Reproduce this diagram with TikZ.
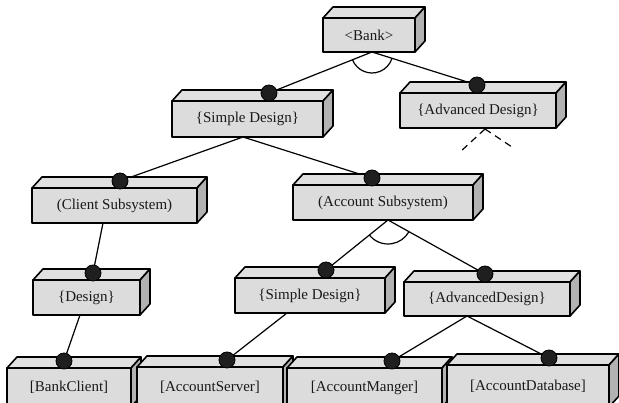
\documentclass[tikz,border=0pt]{standalone}
\usepackage{fontspec}
\setmainfont{Liberation Serif}
\usetikzlibrary{calc}
\definecolor{frontc}{HTML}{DCDCDC}
\definecolor{topc}{HTML}{E0E0E0}
\definecolor{sidec}{HTML}{B2B2B2}
\tikzset{
  boxface/.style={draw=black, line width=1.6pt, line join=round},
  frontbox/.style={boxface, fill=frontc, rectangle, inner sep=0pt, text=black!90,
    font=\fontsize{15}{17}\selectfont},
  link/.style={draw=black, line width=1.2pt},
  knobdot/.style={circle, fill=black!88, draw=black, line width=0.8pt, minimum size=16pt, inner sep=0pt},
  dlink/.style={link, dash pattern=on 7pt off 5pt}
}
\newcommand{\cuboidbox}[6]{%
  \draw[boxface, fill=topc] (#2,#3) -- (#2+10,#3-11) -- (#4+10,#3-11) -- (#4,#3) -- cycle;
  \draw[boxface, fill=sidec] (#4,#3) -- (#4+10,#3-11) -- (#4+10,#5-11) -- (#4,#5) -- cycle;
  \pgfmathsetmacro\cbw{#4-#2}%
  \pgfmathsetmacro\cbh{#5-#3}%
  \node[frontbox, minimum width=\cbw pt, minimum height=\cbh pt] (#1) at ({(#2+#4)/2},{(#3+#5)/2}) {#6};
}
\begin{document}
\begin{tikzpicture}[x=1pt, y=-1pt]
\useasboundingbox (0,0) rectangle (619,403);
\fill[white] (0,0) rectangle (619,403);

% knob / connector positions
\coordinate (bankB) at (372,52);
\coordinate (simpleOneB) at (243,137);
\coordinate (clientB) at (103,223);
\coordinate (designB) at (80,315);
\coordinate (accountB) at (388,220);
\coordinate (simpleTwoB) at (287,313);
\coordinate (advTwoB) at (467,316);
\coordinate (advOneB) at (485,129);
\coordinate (dashL) at (460,152);
\coordinate (dashR) at (512,147);

\coordinate (kSimpleOne) at (269,93);
\coordinate (kAdvOne) at (477,85);
\coordinate (kClient) at (120,181);
\coordinate (kAccount) at (372,178);
\coordinate (kDesign) at (93,273);
\coordinate (kSimpleTwo) at (326,270);
\coordinate (kAdvTwo) at (485,274);
\coordinate (kBankClient) at (64,361);
\coordinate (kAccServer) at (227,360);
\coordinate (kAccManger) at (392,361);
\coordinate (kAccDb) at (549,358);

% connectors
\draw[link] (bankB) -- (kSimpleOne);
\draw[link] (bankB) -- (kAdvOne);
\draw[link] (simpleOneB) -- (kClient);
\draw[link] (simpleOneB) -- (kAccount);
\draw[link] (clientB) -- (kDesign);
\draw[link] (designB) -- (kBankClient);
\draw[link] (accountB) -- (kSimpleTwo);
\draw[link] (accountB) -- (kAdvTwo);
\draw[link] (simpleTwoB) -- (kAccServer);
\draw[link] (advTwoB) -- (kAccManger);
\draw[link] (advTwoB) -- (kAccDb);
\draw[dlink] (advOneB) -- (dashL);
\draw[dlink] (advOneB) -- (dashR);

% and-arcs
\draw[link] ($(bankB)+(158.3:21)$) arc (158.3:17.4:21);
\draw[link] ($(accountB)+(141.1:24)$) arc (141.1:29.1:24);

% boxes
\cuboidbox{bank}{323}{18}{415}{52}{<Bank>}
\cuboidbox{simpleOne}{172}{101}{323}{137}{\{Simple Design\}}
\cuboidbox{advOne}{400}{93}{556}{128}{\{Advanced Design\}}
\cuboidbox{client}{32}{188}{197}{223}{(Client Subsystem)}
\cuboidbox{account}{293}{185}{473}{220}{(Account Subsystem)}
\cuboidbox{design}{33}{280}{140}{315}{\{Design\}}
\cuboidbox{simpleTwo}{235}{278}{385}{313}{\{Simple Design\}}
\cuboidbox{advTwo}{404}{282}{570}{316}{\{AdvancedDesign\}}
\cuboidbox{bankClient}{7}{368}{131}{407}{[BankClient]}
\cuboidbox{accServer}{137}{367}{283}{407}{[AccountServer]}
\cuboidbox{accManger}{287}{368}{442}{407}{[AccountManger]}
\cuboidbox{accDb}{447}{365}{609}{407}{[AccountDatabase]}

% knobs
\foreach \k in {kSimpleOne,kAdvOne,kClient,kAccount,kDesign,kSimpleTwo,kAdvTwo,kBankClient,kAccServer,kAccManger,kAccDb}
  \node[knobdot] (n\k) at (\k) {};
\end{tikzpicture}
\end{document}
